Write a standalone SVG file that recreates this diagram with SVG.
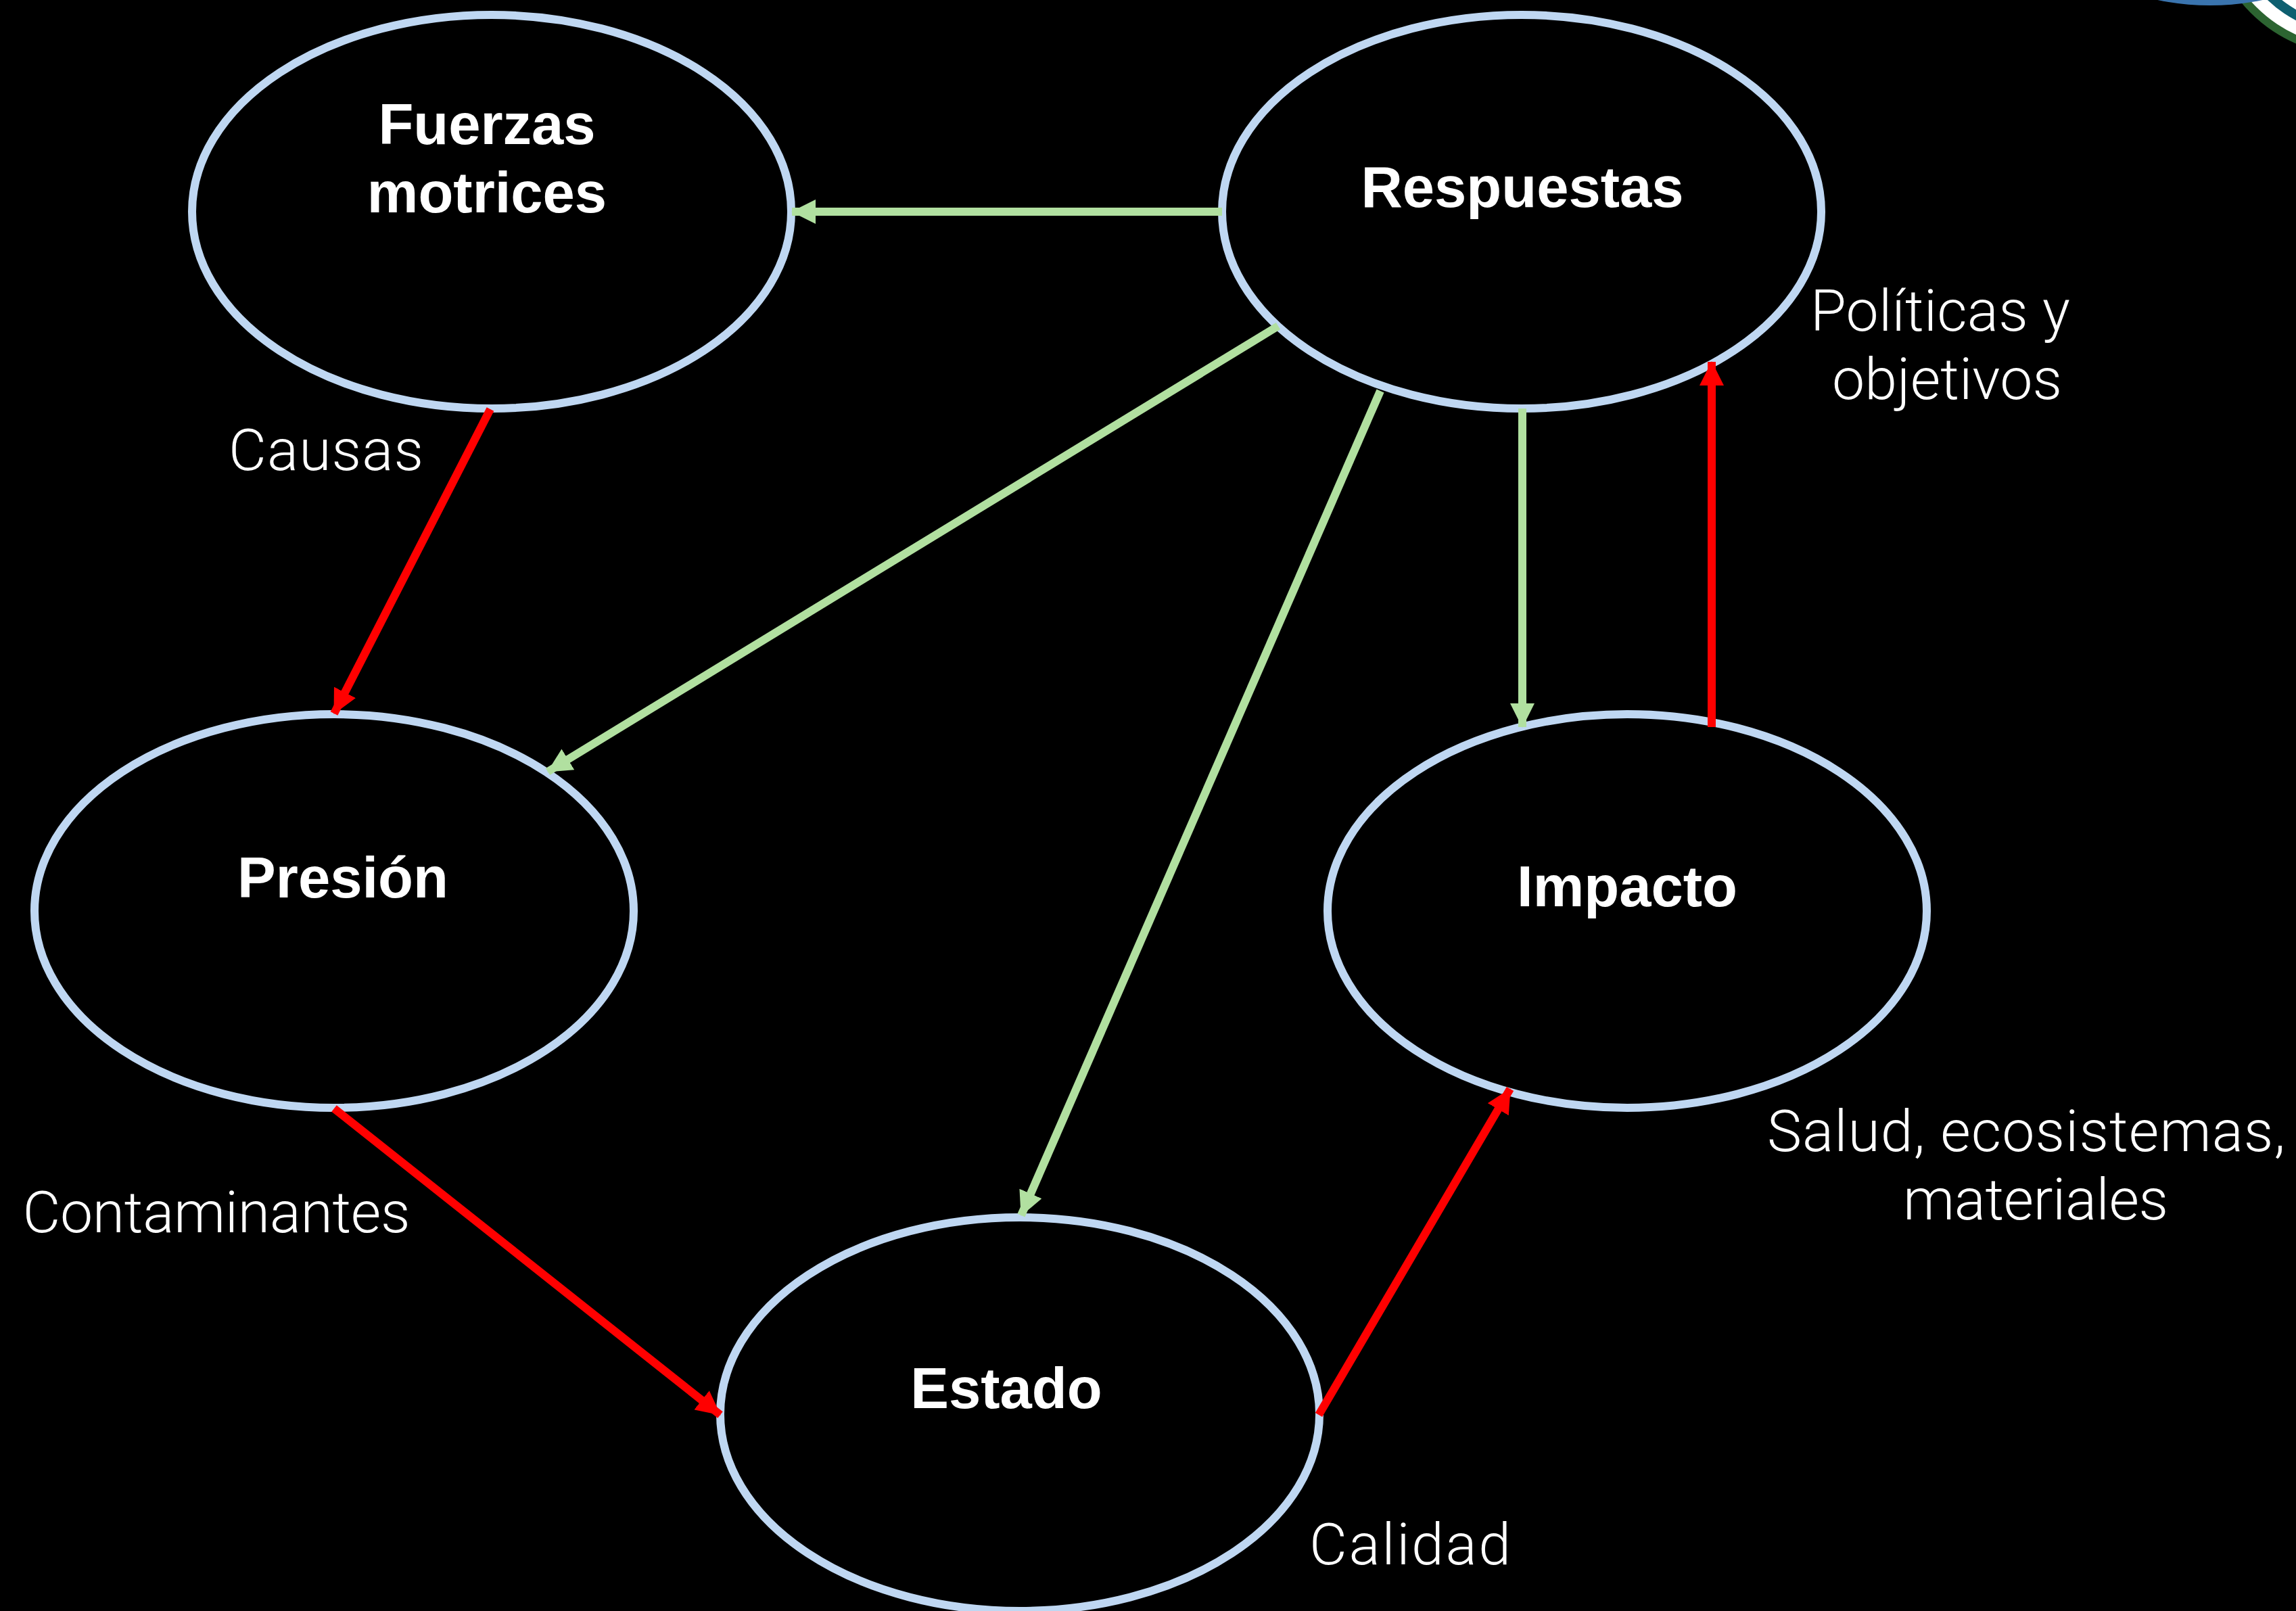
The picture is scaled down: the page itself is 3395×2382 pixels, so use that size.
<svg xmlns="http://www.w3.org/2000/svg" width="3395" height="2382" viewBox="0 0 3395 2382">
<style>
.n{fill:#000;stroke:#bfd7f2;stroke-width:12}
.c{fill:none;stroke-width:12}
.g{stroke:#b1e0a0}
.r{stroke:#ff0000}
.t{font-family:"Liberation Sans",Arial,sans-serif;font-weight:700;font-size:85px;fill:#fff;text-anchor:middle}
.l{font-family:Roboto,"Liberation Sans",sans-serif;font-weight:300;font-size:86px;fill:#fff;text-anchor:middle}
</style>
<defs>
<marker id="ag" markerUnits="userSpaceOnUse" markerWidth="36" markerHeight="36" refX="35" refY="18" orient="auto"><path d="M0 0L36 18L0 36Z" fill="#b1e0a0"/></marker>
<marker id="ar" markerUnits="userSpaceOnUse" markerWidth="36" markerHeight="36" refX="35" refY="18" orient="auto"><path d="M0 0L36 18L0 36Z" fill="#ff0000"/></marker>
</defs>
<rect width="3395" height="2382" fill="#000"/>
<g id="logo">
<circle cx="3480" cy="-133" r="215" fill="#2c6431"/>
<circle cx="3480" cy="-133" r="203" fill="#fff"/>
<circle cx="3480" cy="-133" r="184" fill="#0e5f70"/>
<circle cx="3480" cy="-133" r="170" fill="#fff"/>
<ellipse cx="3268" cy="-60" rx="165" ry="68" fill="#3a74ae"/>
</g>
<g id="fuerzas"><ellipse class="n" cx="727" cy="313" rx="443" ry="291"/><text class="t" x="720" y="213">Fuerzas</text><text class="t" x="720" y="314">motrices</text></g>
<g id="respuestas"><ellipse class="n" cx="2250" cy="313" rx="443" ry="291"/><text class="t" x="2251" y="306">Respuestas</text></g>
<g id="presion"><ellipse class="n" cx="494" cy="1347" rx="443" ry="291"/><text class="t" x="507" y="1327">Presión</text></g>
<g id="impacto"><ellipse class="n" cx="2406" cy="1347" rx="443" ry="291"/><text class="t" x="2406" y="1340">Impacto</text></g>
<g id="estado"><ellipse class="n" cx="1508" cy="2091" rx="443" ry="291"/><text class="t" x="1488" y="2082">Estado</text></g>
<g id="connectors">
<path class="c g" marker-end="url(#ag)" d="M1807 313L1171 313"/>
<path class="c g" marker-end="url(#ag)" d="M1890 482L810 1141"/>
<path class="c g" marker-end="url(#ag)" d="M2041 578L1510 1797"/>
<path class="c g" marker-end="url(#ag)" d="M2251 604L2251 1075"/>
<path class="c r" marker-end="url(#ar)" d="M725 605L494 1055"/>
<path class="c r" marker-end="url(#ar)" d="M494 1639L1065 2092"/>
<path class="c r" marker-end="url(#ar)" d="M1950 2092L2233 1610"/>
<path class="c r" marker-end="url(#ar)" d="M2531 1075L2531 535"/>
</g>
<g id="labels">
<text class="l" x="482" y="695" textLength="288">Causas</text>
<text class="l" x="320" y="1822" textLength="573">Contaminantes</text>
<text class="l" x="2869" y="489" textLength="384">Políticas y</text>
<text class="l" x="2879" y="590" textLength="340">objetivos</text>
<text class="l" x="2996" y="1702" textLength="766">Salud, ecosistemas,</text>
<text class="l" x="3010" y="1803" textLength="392">materiales</text>
<text class="l" x="2085" y="2313" textLength="298">Calidad</text>
</g>
</svg>
